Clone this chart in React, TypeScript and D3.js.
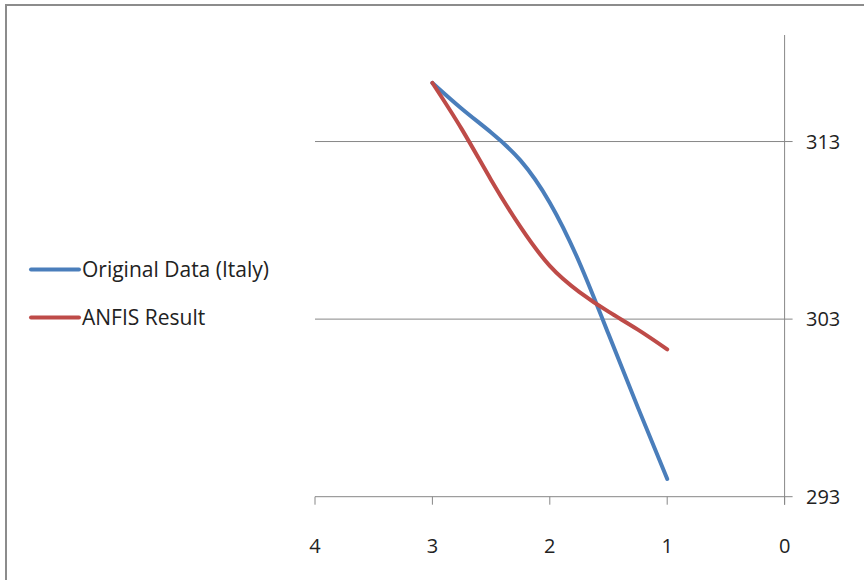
import React from "react";
import * as d3 from "d3";

const xValues = [3, 2.75, 2.5, 2.25, 2, 1.75, 1.5, 1.25, 1];
const originalItaly = [316.3, 314.85, 313.51, 311.94, 309.56, 306.22, 302.16, 298.03, 294.0];
const anfisResult = [316.3, 313.7, 310.84, 308.19, 306.0, 304.54, 303.42, 302.41, 301.3];
const xTicks = [4, 3, 2, 1, 0];
const yTicks = [293, 303, 313];
const seriesNames = ["Original Data (Italy)", "ANFIS Result"];
const seriesColors = ["#4A7EBB", "#BE4B48"];

export default function App() {
  const W = 864;
  const H = 580;
  const x = d3.scaleLinear().domain([4, 0]).range([315, 784.6]);
  const y = d3.scaleLinear().domain([293, 319]).range([496.7, 35]);
  const line = d3
    .line<[number, number]>()
    .x((d) => x(d[0]))
    .y((d) => y(d[1]))
    .curve(d3.curveNatural);
  const series = [originalItaly, anfisResult].map((vals) =>
    xValues.map((xv, i) => [xv, vals[i]] as [number, number])
  );
  const axisColor = "#878787";
  const font = "'Open Sans', sans-serif";
  const x0 = x(0);
  return (
    <svg
      width={W}
      height={H}
      style={{ position: "absolute", left: 0, top: 0, background: "#fff" }}
    >
      <rect x={0} y={0} width={W} height={H} fill="#fff" />
      <rect x={6} y={5} width={W + 20} height={H + 20} fill="none" stroke="#8c8c8c" strokeWidth={2} />
      {yTicks.map((t) => (
        <line key={"g" + t} x1={x(4)} x2={x0 + 8} y1={y(t)} y2={y(t)} stroke={axisColor} strokeWidth={1} />
      ))}
      <line x1={x0} x2={x0} y1={y(319)} y2={y(293) + 8} stroke={axisColor} strokeWidth={1} />
      {xTicks.map((t) => (
        <line key={"xt" + t} x1={x(t)} x2={x(t)} y1={y(293)} y2={y(293) + 8} stroke={axisColor} strokeWidth={1} />
      ))}
      {xTicks.map((t) => (
        <text key={"xl" + t} x={x(t)} y={553} textAnchor="middle" fontFamily={font} fontSize={20} fill="#222">
          {t}
        </text>
      ))}
      {yTicks.map((t) => (
        <text key={"yl" + t} x={806} y={y(t)} dy="0.35em" fontFamily={font} fontSize={20} fill="#222">
          {t}
        </text>
      ))}
      {series.map((s, i) => (
        <path
          key={"s" + i}
          d={line(s) || ""}
          fill="none"
          stroke={seriesColors[i]}
          strokeWidth={4}
          strokeLinecap="round"
          strokeLinejoin="round"
        />
      ))}
      {seriesNames.map((n, i) => (
        <g key={"lg" + i} transform={`translate(0, ${269.5 + i * 48})`}>
          <line x1={31} x2={79} y1={0} y2={0} stroke={seriesColors[i]} strokeWidth={4} strokeLinecap="round" />
          <text x={82} y={0} dy="0.35em" fontFamily={font} fontSize={21} fill="#222">
            {n}
          </text>
        </g>
      ))}
    </svg>
  );
}
